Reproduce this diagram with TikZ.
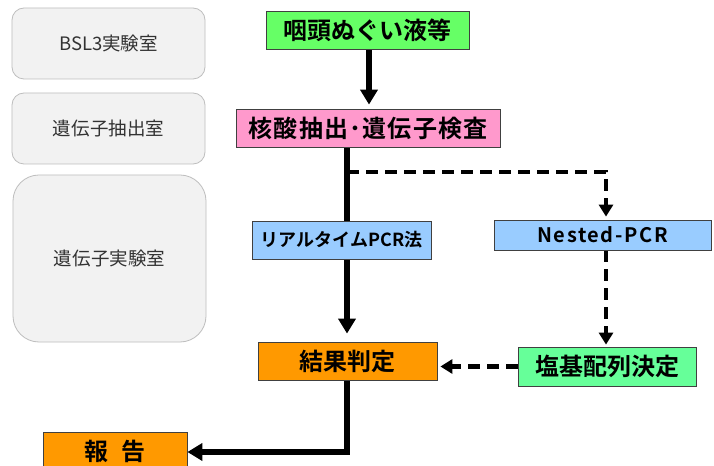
\documentclass[tikz,border=0pt]{standalone}
\usepackage{fontspec}
\newfontfamily\cjk{Noto Sans CJK JP}
\newfontfamily\cjkb{Noto Sans CJK JP Bold}
\usetikzlibrary{arrows.meta,backgrounds}
\definecolor{cgreen}{RGB}{102,255,102}
\definecolor{cpink}{RGB}{255,153,204}
\definecolor{cblue}{RGB}{153,204,255}
\definecolor{corange}{RGB}{255,153,0}
\definecolor{cmint}{RGB}{102,255,153}
\definecolor{cborder}{RGB}{64,64,64}
\definecolor{labfill}{RGB}{242,242,242}
\definecolor{labline}{RGB}{190,190,190}
\definecolor{labtext}{RGB}{50,50,50}
\tikzset{
  proc/.style={draw=cborder, line width=0.8bp, inner sep=0pt, anchor=center,
    font=\cjkb\fontsize{24bp}{28bp}\selectfont, text=black},
  lab/.style={draw=labline, fill=labfill, line width=0.8bp, inner sep=0pt,
    rounded corners=12bp, minimum width=193bp, anchor=center,
    font=\cjk\fontsize{18.5bp}{22bp}\selectfont, text=labtext},
  solidline/.style={line width=5.5bp, draw=black},
  dashline/.style={line width=4.5bp, draw=black, dash pattern=on 12bp off 7bp},
  solidarrow/.style={solidline, -{Triangle[length=15bp,width=17bp]}},
  dasharrow/.style={dashline, -{Triangle[length=12bp,width=14bp]}},
}
\begin{document}
\begin{tikzpicture}[x=1bp,y=-1bp]
\useasboundingbox (0,0) rectangle (714,466);
% lab rooms
\node[lab, minimum height=71bp] (lab1) at (108.5,43.5) {BSL3実験室};
\node[lab, minimum height=71bp] (lab2) at (108.5,128.5) {遺伝子抽出室};
\node[lab, minimum height=167bp, rounded corners=26bp] (lab3) at (109.5,258.5) {遺伝子実験室};
% process boxes
\node[proc, fill=cgreen, minimum width=203bp, minimum height=38bp] (sample) at (367.5,30) {咽頭ぬぐい液等};
\node[proc, fill=cpink, minimum width=264bp, minimum height=38bp, font=\cjkb\fontsize{24bp}{28bp}\selectfont\addfontfeatures{LetterSpace=5}] (extract) at (368,128) {核酸抽出･遺伝子検査};
\node[proc, fill=cblue, minimum width=179bp, minimum height=38bp, font=\cjkb\fontsize{18bp}{22bp}\selectfont] (rt) at (341.5,240) {リアルタイムPCR法};
\node[proc, fill=cblue, minimum width=217bp, minimum height=30bp, font=\cjkb\fontsize{20bp}{24bp}\selectfont\addfontfeatures{LetterSpace=8}] (nested) at (602.5,235) {Nested-PCR};
\node[proc, fill=cmint, minimum width=178bp, minimum height=39bp] (seq) at (607,366.5) {塩基配列決定};
\node[proc, fill=corange, minimum width=179bp, minimum height=38bp] (result) at (347.5,361) {結果判定};
\node[proc, fill=corange, minimum width=144bp, minimum height=38bp] (report) at (115,451) {報\hspace{14bp}告};
% connectors
\coordinate (branch) at (347,172);
\coordinate (turn) at (606,172);
\coordinate (corner) at (347,452);
\begin{scope}[on background layer]
\fill[white] (0,0) rectangle (714,466);
\draw[solidarrow, shorten >=4bp] (sample.south -| 369,0) -- (extract.north -| 369,0);
\draw[solidarrow, shorten >=8bp] (extract.south -| branch) -- (result.north -| branch);
\draw[dasharrow, shorten >=3bp] (branch) -- (turn) -- (nested.north -| turn);
\draw[dasharrow, shorten >=2bp] (nested.south -| turn) -- (seq.north -| turn);
\draw[dasharrow, shorten >=3bp] (seq.west) -- (result.east |- seq.west);
\draw[solidarrow] (result.south -| corner) -- (corner) -- (report.east |- corner);
\end{scope}
\end{tikzpicture}
\end{document}
